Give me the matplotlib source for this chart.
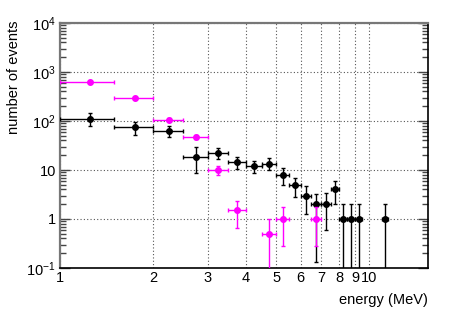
import matplotlib
matplotlib.use('Agg')
import matplotlib.pyplot as plt
from matplotlib.ticker import FixedLocator, LogLocator, NullFormatter

plt.rcParams['font.family'] = ['Liberation Sans', 'DejaVu Sans']
plt.rcParams['mathtext.fontset'] = 'custom'
plt.rcParams['mathtext.rm'] = 'Liberation Sans'
plt.rcParams['mathtext.it'] = 'Liberation Sans'
plt.rcParams['mathtext.default'] = 'regular'

# black series (bin centres, counts, asymmetric errors)
bk_x = [1.25, 1.75, 2.25, 2.75, 3.25, 3.75, 4.25, 4.75, 5.25, 5.75,
        6.25, 6.75, 7.25, 7.75, 8.25, 8.75, 9.25, 11.25]
bk_y = [110, 74, 62, 18.4, 22.5, 14.4, 12.2, 13.5, 8.0, 5.0,
        3.0, 2.0, 2.0, 4.0, 1, 1, 1, 1]
bk_hi = [37, 23, 17, 10.5, 5.5, 4.3, 3.1, 3.8, 2.8, 1.8,
         1.7, 1.3, 1.4, 2.0, 1, 1, 1, 1]
bk_lo = [31, 22, 14, 9.6, 5.5, 4.1, 3.6, 3.5, 3.0, 2.15,
         1.75, 1.87, 1.41, 2.0, 1, 1, 1, 1]

# magenta series
pk_x = [1.25, 1.75, 2.25, 2.75, 3.25, 3.75, 4.75, 5.25, 6.75]
pk_y = [630, 290, 106, 48, 10, 1.5, 0.5, 1.0, 1.0]
pk_err = [18, 12, 7.3, 4.9, 2.2, 0.86, 0.5, 0.72, 0.72]

half_bin = 0.25
x_ticks = [1, 2, 3, 4, 5, 6, 7, 8, 9, 10]

fig = plt.figure(figsize=(4.6, 3.11), dpi=100)
ax = fig.add_axes([60/460, 1 - 268/311, 368/460, 245/311])
ax.set_xscale('log')
ax.set_yscale('log')
ax.set_xlim(1, 15.5)
ax.set_ylim(0.1, 1e4)

ax.errorbar(bk_x, bk_y, xerr=half_bin, yerr=[bk_lo, bk_hi], fmt='o', color='black',
            ms=4, elinewidth=1, capsize=1.5, capthick=1, zorder=3)
ax.errorbar(pk_x, pk_y, xerr=half_bin, yerr=pk_err, fmt='o', color='#ff00ff',
            ms=4, elinewidth=1, capsize=1.5, capthick=1, zorder=4)

# axes decoration
ax.xaxis.set_major_locator(FixedLocator(x_ticks))
ax.set_xticklabels([str(t) for t in x_ticks])
ax.xaxis.set_minor_formatter(NullFormatter())
ax.xaxis.set_minor_locator(FixedLocator([]))
ax.tick_params(axis='x', which='both', length=0, pad=2, labelsize=10.5)

ax.yaxis.set_major_locator(FixedLocator([0.1, 1, 10, 100, 1000, 10000]))
ax.set_yticklabels(['$10^{-1}$', '1', '10', '$10^{2}$', '$10^{3}$', '$10^{4}$'])
ax.yaxis.set_minor_locator(LogLocator(base=10, subs=range(2, 10)))
ax.yaxis.set_minor_formatter(NullFormatter())
ax.tick_params(axis='y', which='major', direction='in', length=7, width=1,
               left=True, right=True, pad=3, labelsize=10.5, color='#444')
ax.tick_params(axis='y', which='minor', direction='in', length=4, width=1,
               left=True, right=True, color='#444')

ax.grid(True, which='major', color='#555', linestyle=(0, (1, 2)), linewidth=0.8)

for s in ['top', 'left']:
    ax.spines[s].set_color('#777')
    ax.spines[s].set_linewidth(1.6)
for s in ['bottom', 'right']:
    ax.spines[s].set_color('black')
    ax.spines[s].set_linewidth(1.2)

fig.text(14/460, 1 - 20/311, 'number of events', rotation=90,
         ha='center', va='top', fontsize=10.5)
fig.text(428/460, 1 - 300/311, 'energy (MeV)', ha='right', va='center', fontsize=10.5)

fig.savefig('out.png', dpi=100)
